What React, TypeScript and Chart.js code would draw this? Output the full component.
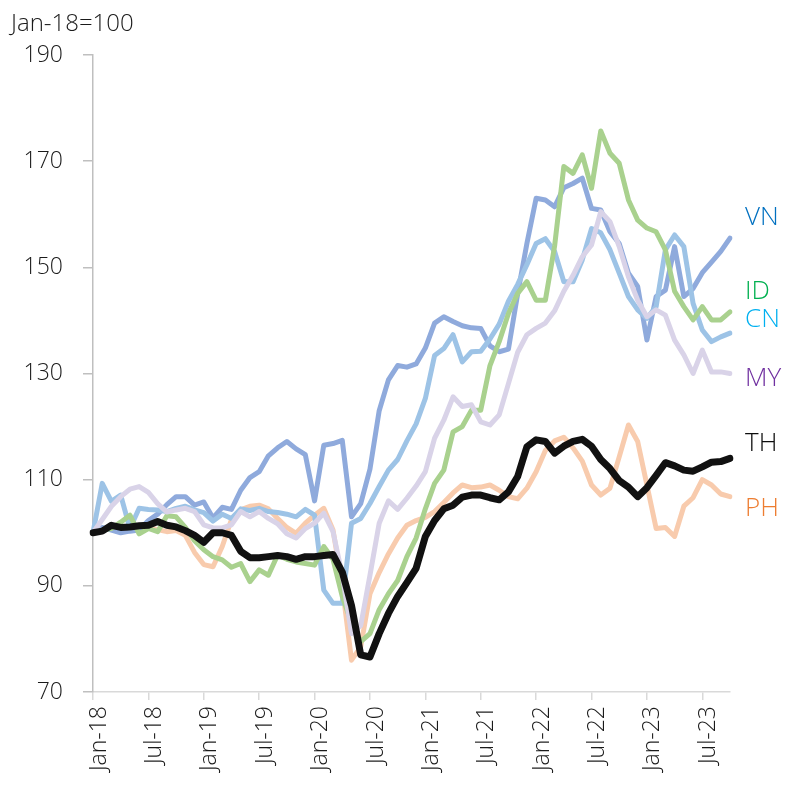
import React, { useEffect, useRef } from "react";
import { Chart, registerables } from "chart.js";

Chart.register(...registerables);

const MONTHS = ["Jan", "Feb", "Mar", "Apr", "May", "Jun", "Jul", "Aug", "Sep", "Oct", "Nov", "Dec"];
const YEARS = ["18", "19", "20", "21", "22", "23"];
const CATEGORIES: string[] = YEARS.flatMap((y) => MONTHS.map((m) => `${m}-${y}`)).slice(0, 70);

const TITLE = "Jan-18=100";
const Y_MIN = 70;
const Y_MAX = 190;
const Y_STEP = 20;

const VN = [100,101,100.5,100,100.3,100.5,102.3,103.5,105.3,106.8,
  106.8,105.2,105.8,102.8,104.8,104.4,108,110.4,111.5,114.5,
  116,117.2,115.8,114.7,106,116.5,116.8,117.4,103,105.5,
  112,123,128.8,131.5,131.2,131.8,134.8,139.5,140.7,139.8,
  139,138.6,138.5,135.2,134.1,134.6,145,154.5,163,162.7,
  161.4,165,165.8,166.8,161.1,160.8,156.7,154.5,148.9,146.4,
  136.3,144.5,145.7,153.9,144.5,146,149,151,153,155.5];

const ID = [100,100.5,100.8,102,103.3,99.8,100.8,100.2,103.2,103,
  101,98.5,96.8,95.5,94.9,93.5,94.2,90.8,93,92,
  95.8,95,94.5,94.2,93.9,97.4,95,88,83,79.5,
  81,85.5,88.5,91,95.5,99,104.5,109.3,111.8,119,
  120,123.1,123.1,131.5,136,141.3,145.1,147.3,143.8,143.8,
  154,169,167.7,171.2,164.9,175.7,171.5,169.6,162.7,158.9,
  157.4,156.7,153.3,145.5,142.6,140.1,142.6,140.1,140.1,141.6];

const CN = [100,109.3,105.9,107.1,100.8,104.6,104.4,104.3,104,104.6,
  105,104.3,103.8,102.2,103.5,102.7,104.5,104.2,104.6,104,
  103.8,103.5,103,104.4,103.3,89.2,86.7,86.7,101.8,102.7,
  105.5,108.7,111.8,113.8,117.3,120.5,125.3,133.4,134.7,137.3,
  132.2,134.1,134.2,136.5,139.3,143.6,146.8,150.5,154.5,155.4,
  153,147.3,147.3,151.4,157.3,156.5,153.3,148.9,144.5,142,
  140.4,142.6,153.3,156.1,153.9,143.2,138.2,136,136.9,137.6];

const MY = [100,102.5,105,106.8,108.2,108.7,107.6,105.5,103.9,104.3,
  104.6,104,101.5,100.9,100.9,101.5,104,103,104,102.7,
  101.7,99.8,99,100.8,101.8,103.7,100.2,92,81,82.5,
  92,101.8,106,104.4,106.5,108.8,111.5,117.8,121.2,125.6,
  123.8,124.1,120.9,120.3,122.2,128.1,134,137.3,138.5,139.5,
  141.8,145.5,148.5,152,154.2,160.5,158.6,153.9,148.2,143.8,
  140.7,142,141,136.3,133.5,130,134.4,130.3,130.3,130];

const TH = [100,100.3,101.4,101,101.1,101.3,101.4,102.1,101.4,101.1,
  100.4,99.5,98.2,100,100,99.5,96.5,95.3,95.3,95.5,
  95.7,95.5,95,95.5,95.5,95.7,95.9,92.6,86.3,77,
  76.6,81,84.8,88,90.6,93.3,99.3,102.3,104.5,105.2,
  106.7,107.1,107.1,106.6,106.2,107.7,110.6,116.2,117.5,117.2,
  115,116.3,117.2,117.6,116.3,113.8,112.1,109.8,108.6,106.8,
  108.5,110.8,113.2,112.6,111.8,111.6,112.4,113.3,113.4,114];

const PH = [100,100.5,101,100.3,100.6,100.8,101,100.6,100.2,100.4,
  99.5,96.3,94,93.6,97.4,102.5,104.3,105,105.2,104.5,
  102.7,101,99.9,101.8,103.3,104.6,100.5,90,76,78.5,
  88.5,92.5,96,99,101.4,102.3,102.9,104,105.7,107.5,
  109,108.5,108.6,109,108,106.8,106.4,108.4,111.5,115.5,
  117.3,118,116,113.5,109,107.1,108.4,114.3,120.3,117.2,
  109,100.8,101,99.3,105,106.6,110,109,107.3,106.8];

const SERIES_NAMES = ["VN", "ID", "CN", "MY", "TH", "PH"];
const SERIES_DATA = [VN, ID, CN, MY, TH, PH];
const LINE_COLORS = ["#8FAADC", "#A9D18E", "#9DC3E6", "#D9D3E8", "#111111", "#F8CBAD"];
const LINE_WIDTHS = [5, 5, 5, 5, 7, 5];
const DRAW_ORDER = [4, 2, 3, 1, 0, 5];
const LABEL_COLORS = ["#0070C0", "#00B050", "#00B0F0", "#7030A0", "#0D0D0D", "#ED7D31"];
const LABEL_VALUES = [159.3, 145.4, 140.2, 129, 116.8, 104.6];

const FONT = '"Open Sans", "DejaVu Sans", sans-serif';

const labelsPlugin = {
  id: "sideLabels",
  afterDraw(chart: any) {
    const ctx = chart.ctx;
    const yScale = chart.scales.y;
    const area = chart.chartArea;
    ctx.save();
    ctx.font = `350 24px ${FONT}`;
    ctx.fillStyle = "#1A1A1A";
    ctx.textAlign = "left";
    ctx.textBaseline = "alphabetic";
    ctx.fillText(TITLE, 11, 31);
    ctx.font = `350 26px ${FONT}`;
    ctx.textBaseline = "middle";
    SERIES_NAMES.forEach((name, i) => {
      ctx.fillStyle = LABEL_COLORS[i];
      ctx.fillText(name, area.right + 15, yScale.getPixelForValue(LABEL_VALUES[i]));
    });
    ctx.restore();
  },
};

export default function App() {
  const canvasRef = useRef<HTMLCanvasElement | null>(null);

  useEffect(() => {
    if (!canvasRef.current) return;
    const chart = new Chart(canvasRef.current, {
      type: "line",
      data: {
        labels: CATEGORIES,
        datasets: SERIES_NAMES.map((name, i) => ({
          label: name,
          data: SERIES_DATA[i],
          borderColor: LINE_COLORS[i],
          backgroundColor: LINE_COLORS[i],
          borderWidth: LINE_WIDTHS[i],
          pointRadius: 0,
          pointHoverRadius: 0,
          tension: 0,
          fill: false,
          borderJoinStyle: "round" as const,
          borderCapStyle: "round" as const,
          order: DRAW_ORDER[i],
        })),
      },
      options: {
        responsive: false,
        animation: false,
        devicePixelRatio: 1,
        layout: { padding: { top: 55, right: 56, left: 0, bottom: 0 } },
        plugins: {
          legend: { display: false },
          tooltip: { enabled: false },
          title: { display: false },
        },
        scales: {
          x: {
            type: "category",
            offset: false,
            grid: {
              display: true,
              drawOnChartArea: false,
              drawTicks: true,
              tickLength: 8,
              lineWidth: 1.5,
              color: (c: any) => (c.index % 6 === 0 ? "#D9D9D9" : "rgba(0,0,0,0)"),
            },
            border: { display: true, color: "#D9D9D9", width: 1.5 },
            ticks: {
              autoSkip: false,
              maxRotation: 90,
              minRotation: 90,
              padding: 6,
              labelOffset: 6,
              color: "#1A1A1A",
              font: { size: 23, family: FONT, weight: 350 },
              callback: (_v: any, i: number) => (i % 6 === 0 ? CATEGORIES[i] : ""),
            },
            afterFit: (s: any) => {
              s.height = 93;
            },
          },
          y: {
            min: Y_MIN,
            max: Y_MAX,
            grid: {
              display: true,
              drawOnChartArea: false,
              drawTicks: true,
              tickLength: 10,
              lineWidth: 1.5,
              color: "#BFBFBF",
            },
            border: { display: true, color: "#BFBFBF", width: 1.5 },
            ticks: {
              stepSize: Y_STEP,
              padding: 20,
              color: "#1A1A1A",
              font: { size: 23, family: FONT, weight: 350 },
            },
            afterFit: (s: any) => {
              s.width = 93;
            },
          },
        },
      },
      plugins: [labelsPlugin],
    });
    return () => chart.destroy();
  }, []);

  return (
    <div style={{ position: "absolute", left: 0, top: 0, width: 786, height: 785, background: "#fff" }}>
      <canvas ref={canvasRef} width={786} height={785} style={{ display: "block" }} />
    </div>
  );
}
